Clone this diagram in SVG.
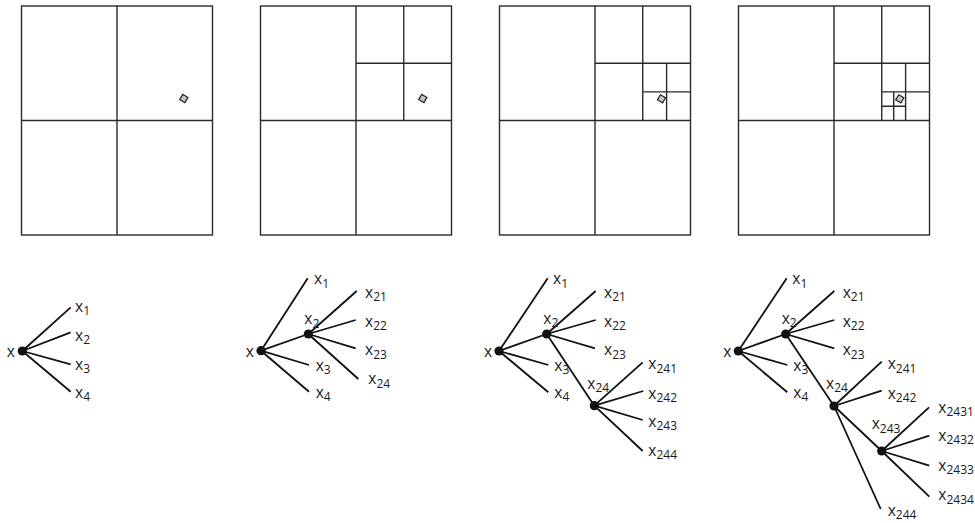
<svg xmlns="http://www.w3.org/2000/svg" xmlns:xlink="http://www.w3.org/1999/xlink" width="975" height="523" viewBox="0 0 975 523">
<style>
.sq{fill:none;stroke:#2a2a2a;stroke-width:1.4}
.edge{stroke:#111;stroke-width:1.8;fill:none}
.dot{fill:#111}
.lbl{font-family:"Open Sans","Noto Sans",sans-serif;font-size:15.5px;fill:#1a1a1a}
.sub{font-size:12px}
.dia{fill:#c4c4c4;stroke:#222;stroke-width:1.2}
</style>
<defs>
<rect id="diamond" class="dia" x="-3" y="-3" width="6" height="6" transform="rotate(30)"/>
</defs>
<rect width="975" height="523" fill="#fff"/>
<g id="panel1">
<rect class="sq" x="21.5" y="6" width="191" height="229"/>
<path class="sq" d="M117 6V235M21.5 120.5H212.5"/>
<use xlink:href="#diamond" x="183.8" y="98.5"/>
</g>
<g id="panel2">
<rect class="sq" x="260.5" y="6" width="191" height="229"/>
<path class="sq" d="M356 6V235M260.5 120.5H451.5M403.75 6V120.5M356 63.25H451.5"/>
<use xlink:href="#diamond" x="422.8" y="98.5"/>
</g>
<g id="panel3">
<rect class="sq" x="499.5" y="6" width="191" height="229"/>
<path class="sq" d="M595 6V235M499.5 120.5H690.5M642.75 6V120.5M595 63.25H690.5M666.6 63.25V120.5M642.75 91.9H690.5"/>
<use xlink:href="#diamond" x="661.5" y="98.8"/>
</g>
<g id="panel4">
<rect class="sq" x="738.5" y="6" width="191" height="229"/>
<path class="sq" d="M834 6V235M738.5 120.5H929.5M881.75 6V120.5M834 63.25H929.5M905.6 63.25V120.5M881.75 91.9H929.5M893.7 91.9V120.5M881.75 106.2H905.6"/>
<use xlink:href="#diamond" x="899.8" y="98.8"/>
</g>
<g id="connectors">
<path class="edge" d="M22.3 351L70.7 307.3M22.3 351L70.7 332.3M22.3 351L70.7 364.3M22.3 351L70.7 391.7"/>
<path class="edge" d="M261 350.7L307.7 278.3M261 350.7L308.3 334M261 350.7L309 365M261 350.7L309 391.7M308.3 334L356.7 291M308.3 334L355.7 320M308.3 334L355.7 348.3M308.3 334L358.3 379"/>
<path class="edge" d="M499 351L547.7 278.3M499 351L546.7 334M499 351L548.3 365M499 351L548.3 392.3M546.7 334L595.7 291M546.7 334L595.7 320M546.7 334L595 348.3M546.7 334L594.3 405.7M594.3 405.7L642.7 362.3M594.3 405.7L643.3 391M594.3 405.7L642.7 420M594.3 405.7L642.7 451"/>
<path class="edge" d="M738.3 351L786.7 278.3M738.3 351L785.7 334M738.3 351L787.3 365M738.3 351L787.3 392.3M785.7 334L834.3 291M785.7 334L834.3 320M785.7 334L834.3 348.3M785.7 334L834 406M834 406L881.7 361.7M834 406L881.7 390.7M834 406L881.7 451M834 406L880.7 509M881.7 451L929 407.3M881.7 451L929.3 435.7M881.7 451L929.3 465.7M881.7 451L929.3 496.7"/>
</g>
<g id="t1-x"><circle class="dot" cx="22.3" cy="351" r="4.6"/><text class="lbl" x="6.7" y="356.5">x</text></g>
<g id="t1-x1"><text class="lbl" x="75" y="312">x<tspan class="sub" dy="3.4">1</tspan></text></g>
<g id="t1-x2"><text class="lbl" x="75" y="341">x<tspan class="sub" dy="3.4">2</tspan></text></g>
<g id="t1-x3"><text class="lbl" x="75" y="369.5">x<tspan class="sub" dy="3.4">3</tspan></text></g>
<g id="t1-x4"><text class="lbl" x="75" y="397.7">x<tspan class="sub" dy="3.4">4</tspan></text></g>

<g id="t2-x"><circle class="dot" cx="261" cy="350.7" r="4.6"/><text class="lbl" x="245.7" y="356.5">x</text></g>
<g id="t2-x1"><text class="lbl" x="314" y="284.3">x<tspan class="sub" dy="3.4">1</tspan></text></g>
<g id="t2-x2"><circle class="dot" cx="308.3" cy="334" r="4.6"/><text class="lbl" x="304.3" y="324.3">x<tspan class="sub" dy="3.4">2</tspan></text></g>
<g id="t2-x21"><text class="lbl" x="365" y="297.7">x<tspan class="sub" dy="3.4">21</tspan></text></g>
<g id="t2-x22"><text class="lbl" x="365" y="327">x<tspan class="sub" dy="3.4">22</tspan></text></g>
<g id="t2-x23"><text class="lbl" x="365" y="355.3">x<tspan class="sub" dy="3.4">23</tspan></text></g>
<g id="t2-x24"><text class="lbl" x="368.3" y="384.3">x<tspan class="sub" dy="3.4">24</tspan></text></g>
<g id="t2-x3"><text class="lbl" x="315.7" y="371">x<tspan class="sub" dy="3.4">3</tspan></text></g>
<g id="t2-x4"><text class="lbl" x="315.7" y="397.7">x<tspan class="sub" dy="3.4">4</tspan></text></g>

<g id="t3-x"><circle class="dot" cx="499" cy="351" r="4.6"/><text class="lbl" x="484" y="356.5">x</text></g>
<g id="t3-x1"><text class="lbl" x="553" y="284.3">x<tspan class="sub" dy="3.4">1</tspan></text></g>
<g id="t3-x2"><circle class="dot" cx="546.7" cy="334" r="4.6"/><text class="lbl" x="543.3" y="324">x<tspan class="sub" dy="3.4">2</tspan></text></g>
<g id="t3-x21"><text class="lbl" x="604" y="297.7">x<tspan class="sub" dy="3.4">21</tspan></text></g>
<g id="t3-x22"><text class="lbl" x="604" y="327">x<tspan class="sub" dy="3.4">22</tspan></text></g>
<g id="t3-x23"><text class="lbl" x="604" y="355.3">x<tspan class="sub" dy="3.4">23</tspan></text></g>
<g id="t3-x3"><text class="lbl" x="554.3" y="371">x<tspan class="sub" dy="3.4">3</tspan></text></g>
<g id="t3-x4"><text class="lbl" x="554.3" y="397.7">x<tspan class="sub" dy="3.4">4</tspan></text></g>
<g id="t3-x24"><circle class="dot" cx="594.3" cy="405.7" r="4.6"/><text class="lbl" x="587.3" y="388.7">x<tspan class="sub" dy="3.4">24</tspan></text></g>
<g id="t3-x241"><text class="lbl" x="648.3" y="369.3">x<tspan class="sub" dy="3.4">241</tspan></text></g>
<g id="t3-x242"><text class="lbl" x="648.3" y="398.7">x<tspan class="sub" dy="3.4">242</tspan></text></g>
<g id="t3-x243"><text class="lbl" x="648.3" y="426.7">x<tspan class="sub" dy="3.4">243</tspan></text></g>
<g id="t3-x244"><text class="lbl" x="648.3" y="456">x<tspan class="sub" dy="3.4">244</tspan></text></g>

<g id="t4-x"><circle class="dot" cx="738.3" cy="351" r="4.6"/><text class="lbl" x="723.3" y="356.5">x</text></g>
<g id="t4-x1"><text class="lbl" x="792.3" y="284.3">x<tspan class="sub" dy="3.4">1</tspan></text></g>
<g id="t4-x2"><circle class="dot" cx="785.7" cy="334" r="4.6"/><text class="lbl" x="781.7" y="324">x<tspan class="sub" dy="3.4">2</tspan></text></g>
<g id="t4-x21"><text class="lbl" x="842.7" y="297.7">x<tspan class="sub" dy="3.4">21</tspan></text></g>
<g id="t4-x22"><text class="lbl" x="842.7" y="327">x<tspan class="sub" dy="3.4">22</tspan></text></g>
<g id="t4-x23"><text class="lbl" x="842.7" y="355.3">x<tspan class="sub" dy="3.4">23</tspan></text></g>
<g id="t4-x3"><text class="lbl" x="793.3" y="371">x<tspan class="sub" dy="3.4">3</tspan></text></g>
<g id="t4-x4"><text class="lbl" x="793.3" y="397.7">x<tspan class="sub" dy="3.4">4</tspan></text></g>
<g id="t4-x24"><circle class="dot" cx="834" cy="406" r="4.6"/><text class="lbl" x="826" y="388.7">x<tspan class="sub" dy="3.4">24</tspan></text></g>
<g id="t4-x241"><text class="lbl" x="887.7" y="369.3">x<tspan class="sub" dy="3.4">241</tspan></text></g>
<g id="t4-x242"><text class="lbl" x="887.7" y="398.7">x<tspan class="sub" dy="3.4">242</tspan></text></g>
<g id="t4-x243"><circle class="dot" cx="881.7" cy="451" r="4.6"/><text class="lbl" x="871.7" y="429.3">x<tspan class="sub" dy="3.4">243</tspan></text></g>
<g id="t4-x244"><text class="lbl" x="887.7" y="516">x<tspan class="sub" dy="3.4">244</tspan></text></g>
<g id="t4-x2431"><text class="lbl" x="938.3" y="412.7">x<tspan class="sub" dy="3.4">2431</tspan></text></g>
<g id="t4-x2432"><text class="lbl" x="938.3" y="441">x<tspan class="sub" dy="3.4">2432</tspan></text></g>
<g id="t4-x2433"><text class="lbl" x="938.3" y="471">x<tspan class="sub" dy="3.4">2433</tspan></text></g>
<g id="t4-x2434"><text class="lbl" x="938.3" y="500.3">x<tspan class="sub" dy="3.4">2434</tspan></text></g>
</svg>
